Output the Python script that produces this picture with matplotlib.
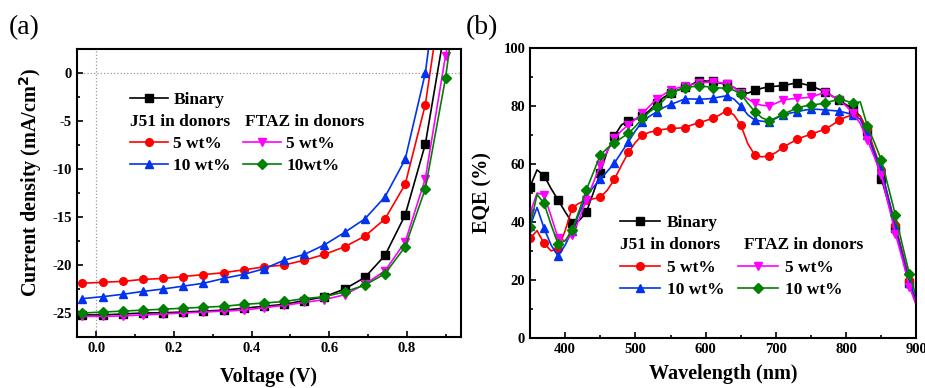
import matplotlib.pyplot as plt
from matplotlib.ticker import MultipleLocator

# (a) J-V curves
voltage = [-0.036, 0.016, 0.068, 0.120, 0.172, 0.224, 0.276, 0.328, 0.380, 0.432,
           0.484, 0.536, 0.588, 0.640, 0.692, 0.744, 0.796, 0.848, 0.900, 0.952]
j_binary = [-25.2, -25.2, -25.1, -25.0, -24.97, -24.9, -24.8, -24.7, -24.5, -24.3,
            -24.1, -23.7, -23.3, -22.5, -21.3, -19.0, -14.8, -7.4, 5.0, 20.0]
j_j51_5 = [-21.9, -21.8, -21.7, -21.5, -21.4, -21.2, -21.0, -20.8, -20.5, -20.2,
           -20.0, -19.5, -18.9, -18.1, -17.0, -15.2, -11.6, -3.3, 11.0, 25.0]
j_j51_10 = [-23.5, -23.3, -23.05, -22.75, -22.5, -22.2, -21.9, -21.4, -20.97, -20.4,
            -19.5, -18.9, -17.9, -16.6, -15.2, -12.9, -9.0, 0.0, 16.0, 30.0]
j_ftaz_5 = [-25.35, -25.35, -25.3, -25.2, -25.1, -25.0, -24.9, -24.8, -24.7, -24.45,
            -24.2, -23.9, -23.6, -23.1, -22.0, -20.6, -17.6, -11.0, 1.8, 12.0]
j_ftaz_10 = [-25.0, -24.9, -24.8, -24.7, -24.6, -24.5, -24.4, -24.3, -24.1, -23.96,
             -23.8, -23.5, -23.3, -22.8, -22.1, -20.9, -18.1, -12.05, -0.55, 15.0]

# (b) EQE spectra, 10 nm steps, markers every 20 nm
wavelength = list(range(350, 901, 10))
eqe_binary = [52.2, 58.0, 56.0, 51.5, 47.6, 43.5, 39.7, 40.5, 43.3, 50.0,
              57.0, 64.5, 69.7, 73.5, 75.0, 75.5, 76.5, 78.5, 81.0, 83.0,
              84.5, 85.5, 86.5, 87.5, 88.8, 88.7, 88.6, 88.0, 87.5, 86.5,
              85.0, 84.5, 85.5, 86.2, 86.7, 86.9, 87.1, 87.6, 88.1, 87.6,
              87.0, 86.0, 85.0, 83.5, 82.0, 80.5, 79.0, 76.5, 71.5, 63.5,
              55.0, 46.5, 38.0, 29.0, 19.0, 12.0]
eqe_j51_5 = [34.3, 37.0, 32.6, 30.0, 30.8, 37.0, 44.9, 46.5, 47.5, 48.0,
             48.5, 51.0, 54.7, 59.5, 64.0, 67.5, 70.0, 71.0, 71.5, 72.0,
             72.3, 72.4, 72.6, 73.5, 74.3, 75.0, 75.8, 77.0, 78.5, 77.0,
             73.5, 67.0, 63.1, 62.5, 62.8, 64.0, 65.8, 67.2, 68.5, 69.5,
             70.3, 71.2, 72.1, 73.5, 75.2, 76.3, 77.0, 76.5, 72.0, 65.0,
             58.0, 48.5, 39.0, 29.5, 20.0, 11.0]
eqe_j51_10 = [38.5, 45.0, 37.8, 32.0, 28.2, 32.0, 37.0, 43.0, 48.7, 52.0,
              54.8, 57.5, 60.3, 64.0, 67.7, 71.5, 74.7, 76.5, 78.0, 79.5,
              80.6, 81.5, 82.5, 82.5, 82.4, 82.5, 82.7, 83.2, 83.6, 82.5,
              80.1, 77.0, 75.2, 74.8, 74.7, 75.8, 77.0, 77.6, 78.1, 78.6,
              79.0, 78.9, 78.7, 78.5, 78.3, 77.7, 77.0, 75.5, 70.0, 64.0,
              58.0, 48.0, 38.0, 28.5, 19.0, 13.0]
eqe_ftaz_5 = [43.0, 50.0, 49.3, 42.0, 34.3, 33.5, 35.5, 41.0, 47.6, 53.5,
              59.7, 64.5, 68.9, 71.5, 73.5, 75.5, 77.5, 80.0, 82.4, 84.0,
              85.6, 86.3, 87.0, 87.5, 87.9, 88.2, 88.5, 88.2, 87.7, 86.5,
              84.4, 82.5, 81.0, 80.3, 80.1, 81.0, 82.1, 82.5, 82.7, 82.9,
              83.1, 84.0, 84.7, 83.5, 82.1, 80.0, 77.5, 74.0, 68.3, 62.5,
              56.2, 46.0, 36.0, 27.0, 17.6, 11.0]
eqe_ftaz_10 = [38.4, 49.5, 46.4, 39.0, 32.4, 33.5, 37.2, 44.0, 51.0, 57.0,
               63.1, 65.5, 67.2, 69.0, 70.6, 73.0, 75.8, 78.0, 79.8, 82.0,
               84.7, 85.5, 86.2, 86.7, 87.1, 86.8, 86.4, 86.3, 86.2, 85.5,
               84.2, 81.0, 78.1, 76.0, 75.0, 76.0, 77.3, 78.3, 79.3, 80.0,
               80.4, 80.7, 81.0, 81.8, 82.4, 81.8, 81.0, 81.5, 73.2, 67.5,
               61.4, 52.0, 42.4, 32.0, 21.9, 14.0]

colors = ["#000000", "#ff0000", "#0033ee", "#ff00ff", "#008000"]
markers = ["s", "o", "^", "v", "D"]

plt.rcParams["font.family"] = "Liberation Serif"
plt.rcParams["font.weight"] = "bold"
plt.rcParams["axes.labelweight"] = "bold"
plt.rcParams["axes.unicode_minus"] = False

fig = plt.figure(figsize=(9.25, 3.88), dpi=100)
ax1 = fig.add_axes([0.0832, 0.1314, 0.4152, 0.7423])
ax2 = fig.add_axes([0.573, 0.1296, 0.4178, 0.7459])


def style_axis(ax, fs):
    for s in ax.spines.values():
        s.set_linewidth(1.5)
    ax.tick_params(which="both", direction="in", top=False, right=False, labelsize=fs, width=1.2)
    ax.tick_params(which="major", length=4)
    ax.tick_params(which="minor", length=2.5)
    for lab in ax.get_xticklabels() + ax.get_yticklabels():
        lab.set_fontweight("bold")


# ---- (a)
jv = [j_binary, j_j51_5, j_j51_10, j_ftaz_5, j_ftaz_10]
jv_labels = ["Binary", "5 wt%", "10 wt%", "5 wt%", "10wt%"]
lines_a = []
for y, c, m, lab in zip(jv, colors, markers, jv_labels):
    ln, = ax1.plot(voltage, y, color=c, marker=m, markersize=5.5, lw=1.2, label=lab)
    lines_a.append(ln)
ax1.axhline(0, color="#999999", ls=":", lw=0.9, zorder=0)
ax1.axvline(0, color="#999999", ls=":", lw=0.9, zorder=0)
ax1.set_xlim(-0.05, 0.94)
ax1.set_ylim(-27.5, 2.5)
ax1.xaxis.set_minor_locator(MultipleLocator(0.1))
ax1.yaxis.set_major_locator(MultipleLocator(5))
ax1.yaxis.set_minor_locator(MultipleLocator(2.5))
ax1.set_xticks([0.0, 0.2, 0.4, 0.6, 0.8])
ax1.set_xticklabels(["0.0", "0.2", "0.4", "0.6", "0.8"])
ax1.set_xlabel("Voltage (V)", fontsize=14.5, labelpad=9)
ax1.set_ylabel("Current density (mA/cm$^\\mathbf{2}$)", fontsize=14.5)
ax1.yaxis.set_label_coords(-0.087, 0.536)
style_axis(ax1, 10.5)

blank, = ax1.plot([], [], color="none")
ax1.legend([lines_a[0], blank, lines_a[1], lines_a[2], blank, blank, lines_a[3], lines_a[4]],
           ["Binary", " ", "5 wt%", "10 wt%", " ", " ", "5 wt%", "10wt%"],
           ncol=2, frameon=False, loc="upper left", bbox_to_anchor=(0.138, 0.85),
           prop={"size": 12.5, "weight": "bold"}, handlelength=2.2, handletextpad=0.3,
           columnspacing=0.7, labelspacing=0.33, borderpad=0, borderaxespad=0)
ax1.text(0.138, 0.745, "J51 in donors", transform=ax1.transAxes, fontsize=12.5,
         fontweight="bold", va="center", ha="left")
ax1.text(0.4375, 0.745, "FTAZ in donors", transform=ax1.transAxes, fontsize=12.5,
         fontweight="bold", va="center", ha="left")

# ---- (b)
eqe = [eqe_binary, eqe_j51_5, eqe_j51_10, eqe_ftaz_5, eqe_ftaz_10]
eqe_labels = ["Binary", "5 wt%", "10 wt%", "5 wt%", "10 wt%"]
lines_b = []
for y, c, m, lab in zip(eqe, colors, markers, eqe_labels):
    ln, = ax2.plot(wavelength, y, color=c, marker=m, markersize=5.5, markevery=2, lw=1.2, label=lab)
    lines_b.append(ln)
ax2.set_xlim(350, 900)
ax2.set_ylim(0, 100)
ax2.xaxis.set_major_locator(MultipleLocator(100))
ax2.xaxis.set_minor_locator(MultipleLocator(50))
ax2.yaxis.set_major_locator(MultipleLocator(20))
ax2.yaxis.set_minor_locator(MultipleLocator(10))
ax2.set_xlabel("Wavelength (nm)", fontsize=14.5, labelpad=6)
ax2.set_ylabel("EQE (%)", fontsize=14.5, labelpad=8)
style_axis(ax2, 10.5)

blank2, = ax2.plot([], [], color="none")
ax2.legend([lines_b[0], blank2, lines_b[1], lines_b[2], blank2, blank2, lines_b[3], lines_b[4]],
           ["Binary", " ", "5 wt%", "10 wt%", " ", " ", "5 wt%", "10 wt%"],
           ncol=2, frameon=False, loc="upper left", bbox_to_anchor=(0.233, 0.425),
           prop={"size": 12.5, "weight": "bold"}, handlelength=2.3, handletextpad=0.4,
           columnspacing=0.8, labelspacing=0.36, borderpad=0, borderaxespad=0)
ax2.text(0.233, 0.32, "J51 in donors", transform=ax2.transAxes, fontsize=12.5,
         fontweight="bold", va="center", ha="left")
ax2.text(0.554, 0.32, "FTAZ in donors", transform=ax2.transAxes, fontsize=12.5,
         fontweight="bold", va="center", ha="left")

fig.text(0.010, 0.930, "(a)", fontsize=20, fontweight="normal", va="center")
fig.text(0.504, 0.930, "(b)", fontsize=20, fontweight="normal", va="center")

fig.savefig("out.png", dpi=100)
